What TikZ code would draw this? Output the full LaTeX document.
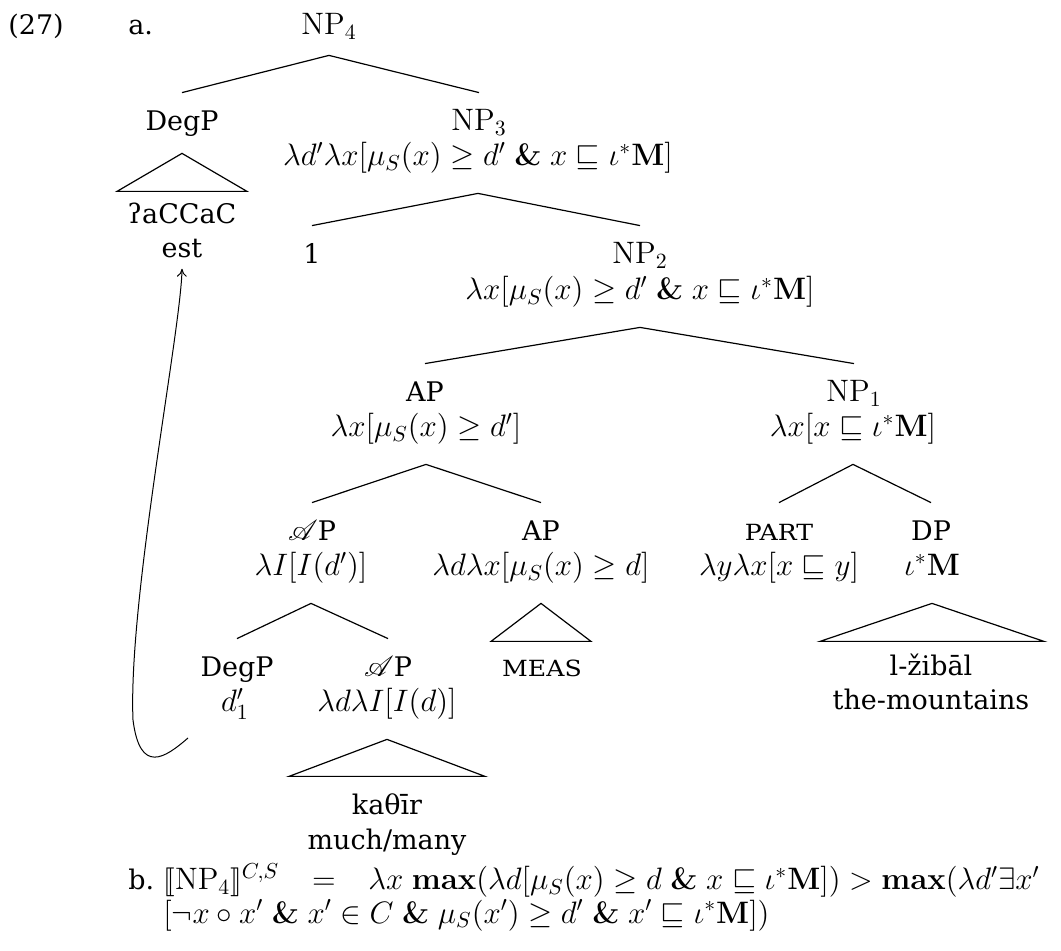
\RequirePackage{fix-cm}
\documentclass[tikz,border=0pt]{standalone}
\usepackage{amsmath,amssymb}
\usepackage{stmaryrd}
\usepackage{mathrsfs}
\usepackage[no-math]{fontspec}
\setmainfont[Scale=0.87]{DejaVu Serif}
\usetikzlibrary{calc,arrows.meta}

% bold conjunction between conjuncts
\newcommand{\band}{\mathrel{\boldsymbol{\&}}}
% faked small capitals
\newcommand{\fsc}[1]{\scalebox{1.13}[1]{\fontsize{12.8}{15}\selectfont #1}}

\begin{document}
\begin{tikzpicture}[x=0.5pt,y=-0.5pt,
  every node/.style={font=\fontsize{15.5}{18.6}\selectfont, inner sep=0pt},
  lab/.style={anchor=base, text height=10pt, text depth=2pt, inner xsep=1pt, inner ysep=9pt},
  form/.style={anchor=base, text height=10pt, text depth=2pt, inner xsep=1pt, inner ysep=11.5pt},
  leaf/.style={anchor=base, inner sep=0pt},
  branch/.style={line width=0.6pt},
  move/.style={line width=0.5pt, -{To[length=4pt,width=5pt]}}
]
\useasboundingbox (0,0) rectangle (1061,951);

% example numbering
\node[leaf, anchor=base west] (exnum) at (8,35) {(27)};
\node[leaf, anchor=base west] (exa) at (128,35) {a.};

% NP4
\node[lab, inner ysep=8pt] (np4) at (329,35) {$\mathrm{NP}_4$};

% DegP (moved)
\node[lab] (degpa) at (182,131) {DegP};
\node[leaf] (agcc) at (182,224) {ʔaCCaC};
\node[leaf, inner ysep=5pt] (est) at (182,258) {est};

% NP3
\node[lab] (np3) at (479,131) {$\mathrm{NP}_3$};
\node[form] (np3f) at (478,166) {$\lambda d'\lambda x\mathbf{[}\mu_S(x)\geq d' \band x\sqsubseteq \iota^*\mathbf{M]}$};

% index and NP2
\node[lab] (idx) at (312,264) {1};
\node[lab] (np2) at (640,264) {$\mathrm{NP}_2$};
\node[form] (np2f) at (640,300) {$\lambda x[\mu_S(x)\geq d' \band x\sqsubseteq \iota^*\mathbf{M]}$};

% AP and NP1
\node[lab] (apa) at (425,402) {AP};
\node[form] (apaf) at (426,437) {$\lambda x[\mu_S(x)\geq d']$};
\node[lab] (np1) at (854,402) {$\mathrm{NP}_1$};
\node[form] (np1f) at (853,437) {$\lambda x[x\sqsubseteq \iota^*\mathbf{M]}$};

% fourth row
\node[lab] (sca) at (312,541) {$\mathscr{A}$P};
\node[form] (scaf) at (311,576) {$\lambda I[I(d')]$};
\node[lab] (apb) at (541,541) {AP};
\node[form] (apbf) at (541,576) {$\lambda d\lambda x[\mu_S(x)\geq d]$};
\node[lab] (part) at (779,541) {\fsc{PART}};
\node[form] (partf) at (779,576) {$\lambda y\lambda x[x\sqsubseteq y]$};
\node[lab] (dp) at (931,541) {DP};
\node[form] (dpf) at (932,576) {$\iota^*\mathbf{M}$};

% fifth row
\node[lab] (degpb) at (237,677) {DegP};
\node[form] (degpbf) at (235,712) {$d'_1$};
\node[lab] (scb) at (388,677) {$\mathscr{A}$P};
\node[form] (scbf) at (387,712) {$\lambda d\lambda I[I(d)]$};
\node[leaf] (meas) at (542,677) {\fsc{MEAS}};
\node[leaf] (zibal) at (931,676) {l-žibāl};
\node[leaf] (mount) at (931,710) {the-mountains};

% lexical item under the second script-A P
\node[leaf] (kathir) at (387,815) {kaθīr};
\node[leaf] (many) at (387,849) {much/many};

% branches
\draw[branch] (np4.south) -- (degpa.north);
\draw[branch] (np4.south) -- (np3.north);
\draw[branch] (np3f.south) -- (idx.north);
\draw[branch] (np3f.south) -- (np2.north);
\draw[branch] (np2f.south) -- (apa.north);
\draw[branch] (np2f.south) -- (np1.north);
\draw[branch] (apaf.south) -- (sca.north);
\draw[branch] (apaf.south) -- (apb.north);
\draw[branch] (np1f.south) -- (part.north);
\draw[branch] (np1f.south) -- (dp.north);
\draw[branch] (scaf.south) -- (degpb.north);
\draw[branch] (scaf.south) -- (scb.north);

% roofs
\draw[branch] (degpa.south) -- ++(-65,38) -- ++(130,0) -- cycle;
\draw[branch] (apbf.south) -- ++(-50,38) -- ++(100,0) -- cycle;
\draw[branch] (dpf.south) -- ++(-112,38) -- ++(224,0) -- cycle;
\draw[branch] (scbf.south) -- ++(-98,37) -- ++(196,0) -- cycle;

% movement of the degree phrase
\coordinate (mvfrom) at ($(degpbf.base)+(-47,26)$);
\draw[move] (mvfrom) .. controls (165,758) and (140,775) .. (133,720)
  .. controls (128,600) and (181,330) .. (est.south);

% truth conditions
\node[leaf, anchor=base west] (exb) at (128,890) {b.};
\node[leaf, anchor=base west] (tcone) at (163,890)
  {$\llbracket\mathrm{NP}_4\rrbracket^{C,S}\mkern14mu=\mkern14mu\lambda x\ \mathbf{max(}\lambda d[\mu_S(x)\geq d \band x\sqsubseteq\iota^*\mathbf{M])} > \mathbf{max(}\lambda d'\exists x'$};
\node[leaf, anchor=base west] (tctwo) at (163,923)
  {$\mathbf{[}\neg x\circ x' \band x'\in C \band \mu_S(x')\geq d' \band x'\sqsubseteq\iota^*\mathbf{M])}$};
\end{tikzpicture}
\end{document}
